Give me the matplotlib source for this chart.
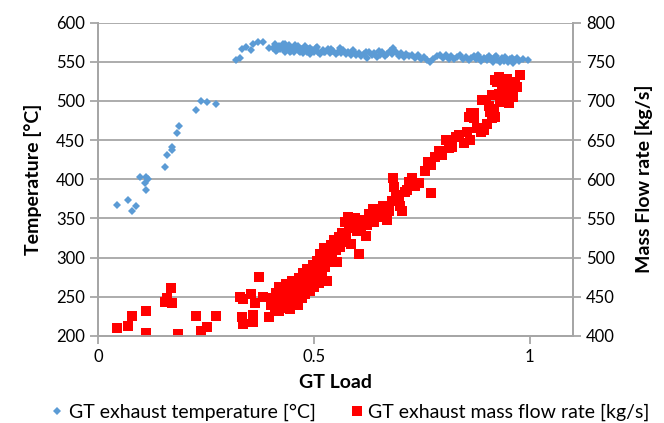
import matplotlib
matplotlib.use("Agg")
import matplotlib.pyplot as plt
from matplotlib.lines import Line2D

plt.rcParams['font.family'] = ['Lato', 'DejaVu Sans']

# GT exhaust temperature [degC] vs GT load
temp_load = [0.043, 0.069, 0.078, 0.089, 0.097, 0.108, 0.112, 0.112, 0.115, 0.155,
             0.160, 0.172, 0.172, 0.182, 0.187, 0.226, 0.239, 0.253, 0.273, 0.320,
             0.328, 0.334, 0.343, 0.355, 0.359, 0.370, 0.382, 0.397,
             0.405, 0.41, 0.415, 0.42, 0.425, 0.428, 0.432, 0.436, 0.44, 0.443,
             0.447, 0.45, 0.454, 0.458, 0.462, 0.466, 0.47, 0.474, 0.478, 0.483,
             0.487, 0.49, 0.495, 0.5, 0.505, 0.51, 0.515, 0.52, 0.526, 0.532,
             0.538, 0.544, 0.55, 0.556, 0.562, 0.568, 0.574, 0.58, 0.586, 0.592,
             0.598, 0.604, 0.61, 0.616, 0.622, 0.628, 0.634, 0.64, 0.646, 0.652,
             0.658, 0.664, 0.67, 0.676, 0.684, 0.69, 0.696, 0.702, 0.708, 0.714,
             0.72, 0.727, 0.734, 0.74, 0.748, 0.755, 0.762, 0.768, 0.775, 0.785,
             0.792, 0.798, 0.805, 0.812, 0.818, 0.825, 0.832, 0.838, 0.845, 0.852,
             0.858, 0.864, 0.87, 0.876, 0.882, 0.888, 0.894, 0.9, 0.905, 0.91,
             0.915, 0.92, 0.925, 0.93, 0.935, 0.94, 0.945, 0.95, 0.955, 0.96,
             0.965, 0.97, 0.975, 0.985, 0.995,
             0.412, 0.422, 0.434, 0.445, 0.456, 0.468, 0.48, 0.492, 0.508, 0.523,
             0.54, 0.56, 0.59, 0.62, 0.65, 0.68, 0.88, 0.9, 0.922, 0.942, 0.958]
temp_vals = [367, 374, 360, 366, 403, 395, 386, 403, 400, 415,
             431, 437, 441, 459, 468, 488, 500, 499, 496, 552,
             555, 566, 569, 565, 573, 575, 575, 567,
             568, 572, 565, 570, 567, 573, 563, 569, 566, 571,
             564, 568, 562, 567, 570, 564, 566, 561, 568, 563,
             566, 560, 565, 562, 567, 563, 560, 565, 562, 566,
             561, 564, 560, 563, 561, 565, 560, 562, 559, 563,
             558, 561, 557, 560, 555, 562, 558, 561, 556, 559,
             563, 557, 560, 564, 568, 562, 557, 561, 556, 560,
             557, 559, 555, 558, 554, 556, 552, 550, 553, 557,
             559, 555, 558, 554, 557, 553, 556, 558, 554, 556,
             552, 555, 557, 553, 556, 551, 555, 552, 557, 553,
             550, 556, 552, 549, 555, 551, 554, 550, 553, 548,
             552, 555, 551, 553, 552,
             564, 566, 572, 563, 571, 562, 570, 567, 569, 563,
             566, 567, 565, 563, 564, 560, 558, 555, 557, 556, 555]

# GT exhaust mass flow rate [kg/s] vs GT load
flow_load = [0.043, 0.069, 0.078, 0.112, 0.112, 0.155, 0.160, 0.172, 0.170, 0.185,
             0.226, 0.239, 0.253, 0.273, 0.328, 0.335, 0.334, 0.335, 0.355, 0.359,
             0.359, 0.372, 0.363, 0.382, 0.397,
             0.40, 0.405, 0.41, 0.412, 0.415, 0.418, 0.42, 0.422, 0.425, 0.428,
             0.43, 0.432, 0.435, 0.437, 0.44, 0.442, 0.445, 0.447, 0.45, 0.452,
             0.455, 0.457, 0.46, 0.462, 0.465, 0.467, 0.47, 0.472, 0.475, 0.477,
             0.48, 0.482, 0.485, 0.487, 0.49, 0.492, 0.495, 0.497, 0.5, 0.502,
             0.505, 0.507, 0.51, 0.512, 0.515, 0.518, 0.52, 0.523, 0.525, 0.528,
             0.53, 0.533, 0.536, 0.54, 0.543, 0.547, 0.55, 0.553, 0.557, 0.56,
             0.564, 0.568, 0.572, 0.575, 0.578, 0.582, 0.586, 0.59, 0.595, 0.6,
             0.605, 0.61, 0.615, 0.62, 0.624, 0.628, 0.632, 0.636, 0.64, 0.645,
             0.651, 0.655, 0.659, 0.665, 0.67, 0.674, 0.68, 0.682, 0.686, 0.69,
             0.694, 0.697, 0.7, 0.705, 0.71, 0.716, 0.72, 0.726, 0.733, 0.743,
             0.758, 0.765, 0.77, 0.77, 0.78, 0.79, 0.797, 0.805, 0.812, 0.82,
             0.828, 0.836, 0.847, 0.855, 0.859, 0.862, 0.863, 0.87, 0.871, 0.878,
             0.886, 0.889, 0.894, 0.898, 0.901, 0.905, 0.908, 0.913, 0.913, 0.916,
             0.92, 0.92, 0.924, 0.928, 0.928, 0.932, 0.936, 0.94, 0.944, 0.946,
             0.951, 0.951, 0.951, 0.955, 0.959, 0.959, 0.962, 0.965, 0.97, 0.978]
flow_vals = [410, 413, 425, 432, 404, 443, 448, 442, 461, 403,
             425, 407, 411, 425, 450, 447, 424, 415, 454, 427,
             418, 475, 442, 450, 424,
             440, 448, 436, 455, 444, 432, 462, 450, 440, 456,
             436, 446, 466, 452, 442, 460, 434, 448, 470, 456,
             444, 462, 450, 440, 474, 458, 466, 448, 480, 462,
             454, 472, 486, 466, 458, 478, 470, 490, 462, 482,
             474, 496, 486, 468, 504, 480, 492, 512, 488, 498,
             470, 508, 494, 516, 500, 522, 510, 494, 526, 514,
             532, 520, 546, 530, 552, 538, 518, 544, 550, 534,
             505, 540, 548, 527, 542, 556, 550, 562, 546, 558,
             561, 552, 566, 556, 548, 559, 572, 601, 590, 580,
             574, 573, 566, 559, 584, 586, 596, 601, 592, 595,
             610, 622, 582, 618, 628, 636, 631, 650, 640, 641,
             654, 657, 646, 660, 680, 650, 684, 684, 678, 666,
             660, 701, 663, 701, 671, 694, 686, 707, 678, 690,
             680, 726, 724, 709, 731, 698, 720, 712, 701, 728,
             697, 722, 705, 715, 709, 716, 705, 724, 718, 733]

blue = '#5B9BD5'
red = '#FF0000'
grid_c = '#A6A6A6'

fig = plt.figure(figsize=(6.64, 4.23), dpi=100)
ax = fig.add_axes([0.1476, 0.2057, 0.7154, 0.7411])
ax2 = ax.twinx()

ax.plot(temp_load, temp_vals, linestyle='none', marker='D', markersize=4.2,
        color=blue, markeredgewidth=0)
ax2.plot(flow_load, flow_vals, linestyle='none', marker='s', markersize=6.8,
         color=red, markeredgewidth=0)

ax.set_xlim(0, 1.1)
ax.set_ylim(200, 600)
ax2.set_ylim(400, 800)
ax.set_xticks([0, 0.5, 1])
ax.set_xticklabels(['0', '0.5', '1'])
ax.set_yticks(range(200, 601, 50))
ax2.set_yticks(range(400, 801, 50))

ax.yaxis.grid(True, color=grid_c, linewidth=1.3)
ax.set_axisbelow(True)

for a in (ax, ax2):
    for s in a.spines.values():
        s.set_color(grid_c)
        s.set_linewidth(1.3)
    a.spines['top'].set_visible(False)
    a.tick_params(colors=grid_c, labelcolor='black', labelsize=12, length=6, width=1.3)

ax.set_xlabel('GT Load', fontsize=14, fontweight='bold', labelpad=6)
ax.set_ylabel('Temperature [°C]', fontsize=14, fontweight='bold', labelpad=10)
ax2.set_ylabel('Mass Flow rate [kg/s]', fontsize=14, fontweight='bold', labelpad=14)

handles = [Line2D([], [], linestyle='none', marker='D', markersize=4.2, color=blue,
                  markeredgewidth=0, label='GT exhaust temperature [°C]'),
           Line2D([], [], linestyle='none', marker='s', markersize=6.8, color=red,
                  markeredgewidth=0, label='GT exhaust mass flow rate [kg/s]')]
fig.legend(handles=handles, loc='center', bbox_to_anchor=(0.525, 0.026), ncol=2,
           frameon=False, fontsize=14, handletextpad=0.1, columnspacing=1.6,
           handlelength=1.0)

fig.savefig('out.png', dpi=100)
